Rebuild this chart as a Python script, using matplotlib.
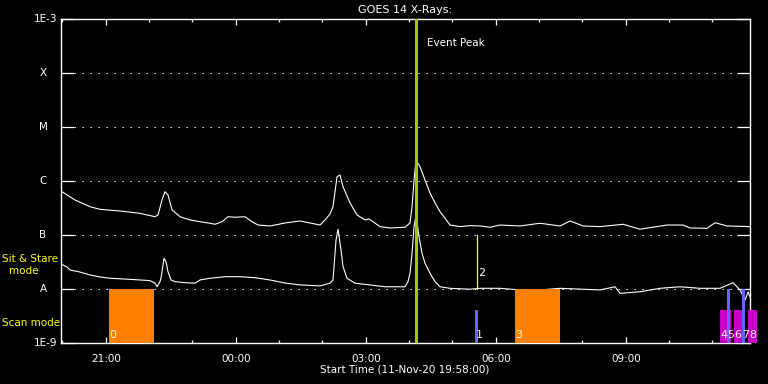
import matplotlib
matplotlib.use("Agg")
import matplotlib.pyplot as plt
from matplotlib.ticker import FixedLocator, NullFormatter
import matplotlib.transforms as mtransforms

# ---------------- data (time in hours after 11-Nov-20 19:58:00) ----------------
upper_t = [0.000, 0.323, 0.669, 0.900, 1.362, 1.823, 2.169, 2.239, 2.331, 2.400, 2.469,
           2.562, 2.746, 2.977, 3.208, 3.439, 3.554, 3.716, 3.854, 4.016, 4.246, 4.408,
           4.547, 4.823, 5.170, 5.516, 5.977, 6.093, 6.208, 6.277, 6.370, 6.439, 6.508,
           6.670, 6.831, 7.016, 7.108, 7.362, 7.593, 7.939, 8.054, 8.101, 8.147, 8.193,
           8.285, 8.401, 8.516, 8.632, 8.747, 8.862, 8.977, 9.208, 9.439, 9.670, 9.901,
           10.131, 10.593, 11.055, 11.516, 11.747, 12.047, 12.439, 12.970, 13.362, 13.986,
           14.355, 14.517, 14.909, 15.093, 15.370, 15.901]
upper_flux = [6.5e-7, 4.45e-7, 3.34e-7, 2.99e-7, 2.78e-7, 2.52e-7, 2.18e-7, 2.35e-7, 4.45e-7,
              6.34e-7, 5.5e-7, 2.93e-7, 2.18e-7, 1.90e-7, 1.76e-7, 1.65e-7, 1.58e-7, 1.76e-7,
              2.18e-7, 2.13e-7, 2.18e-7, 1.76e-7, 1.53e-7, 1.47e-7, 1.67e-7, 1.82e-7, 1.53e-7,
              1.90e-7, 2.45e-7, 3.34e-7, 1.20e-6, 1.29e-6, 7.83e-7, 3.92e-7, 2.35e-7, 1.90e-7,
              1.98e-7, 1.43e-7, 1.35e-7, 1.39e-7, 1.67e-7, 3.34e-7, 1.04e-6, 2.45e-6, 1.84e-6,
              1.04e-6, 6.0e-7, 3.92e-7, 2.70e-7, 2.04e-7, 1.53e-7, 1.43e-7, 1.49e-7, 1.47e-7,
              1.39e-7, 1.53e-7, 1.47e-7, 1.65e-7, 1.47e-7, 1.82e-7, 1.47e-7, 1.43e-7, 1.58e-7,
              1.28e-7, 1.53e-7, 1.53e-7, 1.35e-7, 1.33e-7, 1.69e-7, 1.47e-7, 1.43e-7]

lower_t = [0.000, 0.138, 0.208, 0.438, 0.669, 0.900, 1.131, 1.592, 2.054, 2.169, 2.216,
           2.285, 2.308, 2.354, 2.377, 2.423, 2.469, 2.539, 2.631, 2.862, 3.093, 3.208,
           3.439, 3.785, 4.131, 4.477, 4.823, 5.170, 5.516, 5.977, 6.208, 6.277, 6.300,
           6.347, 6.393, 6.462, 6.508, 6.601, 6.785, 7.131, 7.477, 7.939, 8.008, 8.054,
           8.101, 8.147, 8.193, 8.262, 8.331, 8.401, 8.516, 8.632, 8.747, 8.977, 9.439,
           9.670, 10.131, 10.593, 11.055, 11.516, 12.439, 12.786, 12.901, 13.362, 13.824,
           14.286, 14.747, 15.209, 15.509, 15.670, 15.786, 15.855, 15.901]
lower_flux = [2.90e-8, 2.55e-8, 2.25e-8, 2.06e-8, 1.82e-8, 1.67e-8, 1.58e-8, 1.51e-8, 1.43e-8,
              1.28e-8, 1.10e-8, 1.37e-8, 1.60e-8, 2.78e-8, 3.70e-8, 3.21e-8, 2.09e-8, 1.47e-8,
              1.37e-8, 1.31e-8, 1.28e-8, 1.47e-8, 1.58e-8, 1.69e-8, 1.69e-8, 1.62e-8, 1.47e-8,
              1.29e-8, 1.19e-8, 1.14e-8, 1.28e-8, 1.47e-8, 2.59e-8, 8.07e-8, 1.28e-7, 5.27e-8,
              2.59e-8, 1.58e-8, 1.28e-8, 1.19e-8, 1.10e-8, 1.10e-8, 1.37e-8, 1.95e-8, 4.58e-8,
              1.43e-7, 2.35e-7, 9.31e-8, 4.58e-8, 2.99e-8, 1.95e-8, 1.37e-8, 1.10e-8, 1.03e-8,
              9.9e-9, 1.03e-8, 1.03e-8, 9.6e-9, 9.6e-9, 1.03e-8, 9.6e-9, 1.10e-8, 8.3e-9,
              8.9e-9, 1.03e-8, 1.10e-8, 1.03e-8, 1.03e-8, 1.31e-8, 9.6e-9, 6.25e-9, 8.8e-9, 7.1e-9]

# event markers: label, start (h), end (h), bottom flux, top flux, colour
event_labels = ["0", "1", "2", "3", "4", "5", "6", "7", "8"]
event_start = [1.108, 9.555, 9.608, 10.478, 15.209, 15.370, 15.532, 15.716, 15.863]
event_end = [2.139, 9.624, 9.608, 11.509, 15.455, 15.440, 15.786, 15.786, 16.070]
event_bottom = [1e-9, 1e-9, 1e-8, 1e-9, 1e-9, 1e-9, 1e-9, 1e-9, 1e-9]
event_top = [1e-8, 4.1e-9, 1e-7, 1e-8, 4.1e-9, 1e-8, 4.1e-9, 1e-8, 4.1e-9]
event_kind = ["orange", "blue", "yellow", "orange", "magenta", "blue", "magenta", "blue", "magenta"]
event_label_y = [1.15e-9, 1.15e-9, 1.6e-8, 1.15e-9, 1.15e-9, 1.15e-9, 1.15e-9, 1.15e-9, 1.15e-9]

peak_time = 8.186

class_levels = [1e-3, 1e-4, 1e-5, 1e-6, 1e-7, 1e-8, 1e-9]
class_labels = ["1E-3", "X", "M", "C", "B", "A", "1E-9"]

major_ticks = [1.0333, 4.0333, 7.0333, 10.0333, 13.0333]
major_labels = ["21:00", "00:00", "03:00", "06:00", "09:00"]
minor_ticks = [0.0333 + k for k in range(16)]

x_max = 15.90

colors = {"orange": "#ff8000", "blue": "#6464ff", "yellow": "#ffff00", "magenta": "#c800c8"}

# ---------------- figure ----------------
fig = plt.figure(figsize=(7.68, 3.84), dpi=100, facecolor="black")
ax = fig.add_axes([61 / 768, 41 / 384, 689 / 768, 324 / 384])
ax.set_facecolor("black")
ax.set_yscale("log")
ax.set_ylim(1e-9, 1e-3)
ax.set_xlim(0, x_max)

for s in ax.spines.values():
    s.set_color("white")
    s.set_linewidth(1.0)

# dotted class lines
for lev in class_levels[1:-1]:
    ax.axhline(lev, xmin=13 / 689, xmax=1 - 13 / 689, color="white", lw=0.72,
               dashes=(1.4, 6.6), zorder=1)

# y ticks (inward, both sides), labels placed manually
ax.yaxis.set_major_locator(FixedLocator(class_levels))
ax.yaxis.set_minor_locator(FixedLocator([]))
ax.yaxis.set_major_formatter(NullFormatter())
ax.tick_params(axis="y", which="major", direction="in", length=9.4, width=0.9,
               color="white", left=True, right=True)

trans_y = mtransforms.blended_transform_factory(fig.transFigure, ax.transData)
for lev, lab in zip(class_levels, class_labels):
    if lab.startswith("1E"):
        ax.text(57 / 768, lev, lab, transform=trans_y, ha="right", va="center",
                color="white", fontsize=7.5)
    else:
        ax.text(43 / 768, lev, lab, transform=trans_y, ha="center", va="center",
                color="white", fontsize=7.5)

# x ticks
ax.xaxis.set_major_locator(FixedLocator(major_ticks))
ax.xaxis.set_minor_locator(FixedLocator(minor_ticks))
ax.set_xticklabels(major_labels)
ax.tick_params(axis="x", which="major", direction="in", length=4.5, width=0.9,
               color="white", top=True, bottom=True, labelcolor="white",
               labelsize=7.5, pad=8)
ax.tick_params(axis="x", which="minor", direction="in", length=2.3, width=0.9,
               color="white", top=True, bottom=True)

# light curves
ax.plot(upper_t, upper_flux, color="white", lw=0.8, zorder=3)
ax.plot(lower_t, lower_flux, color="white", lw=0.8, zorder=3)

# event markers
for lab, t0, t1, b, tp, kind, ly in zip(event_labels, event_start, event_end, event_bottom,
                                        event_top, event_kind, event_label_y):
    if kind == "yellow":
        ax.plot([t0, t0], [b, tp], color=colors[kind], lw=0.9, zorder=4)
    else:
        z = 5 if kind == "blue" else 4
        ax.bar(t0, tp - b, bottom=b, width=t1 - t0, align="edge", color=colors[kind],
               lw=0, zorder=z, clip_on=False)
    ax.text(t0 + 0.01, ly, lab, color="white", fontsize=8, ha="left", va="bottom",
            zorder=6, clip_on=False)

# event peak
ax.axvline(peak_time, color="#9acd00", lw=2.2, zorder=4)
fig.text(427 / 768, 1 - 43 / 384, "Event Peak", color="white",
         fontsize=7.5, ha="left", va="center")

# titles and side labels
fig.text(405 / 768, 1 - 10 / 384, "GOES 14 X-Rays:", color="white", fontsize=8,
         ha="center", va="center")
fig.text(405 / 768, 1 - 369 / 384, "Start Time (11-Nov-20 19:58:00)", color="white",
         fontsize=7.5, ha="center", va="center")
fig.text(2 / 768, 1 - 259 / 384, "Sit & Stare", color="#ffff00", fontsize=7.5,
         ha="left", va="center")
fig.text(24 / 768, 1 - 271 / 384, "mode", color="#ffff00", fontsize=7.5,
         ha="center", va="center")
fig.text(2 / 768, 1 - 323 / 384, "Scan mode", color="#ffff00", fontsize=7.5,
         ha="left", va="center")

fig.savefig("out.png", dpi=100, facecolor="black")
